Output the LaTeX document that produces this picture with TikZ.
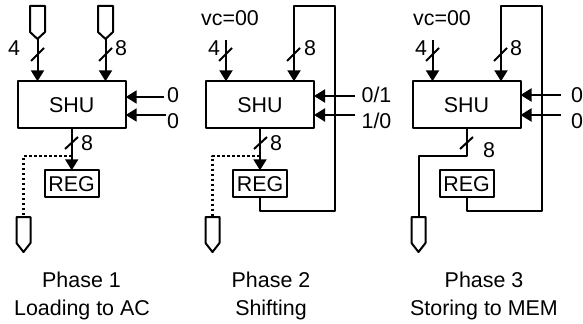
\documentclass[tikz,border=0pt]{standalone}
\usepackage{fontspec}
\setmainfont{Liberation Sans}
\usetikzlibrary{arrows.meta}
\tikzset{
  wire/.style={black,line width=2bp,line join=round},
  dotwire/.style={wire,line width=2.6bp,dash pattern=on 2.6bp off 2.4bp},
  shubox/.style={draw,line width=2bp,minimum width=108bp,minimum height=47bp,inner sep=0pt,outer sep=0pt},
  regbox/.style={draw,line width=2bp,minimum width=54bp,minimum height=27bp,inner sep=0pt,outer sep=0pt},
  lbl/.style={inner sep=0pt,font=\fontsize{21.5}{21.5}\selectfont},
}
\begin{document}
\begin{tikzpicture}[>={Triangle[length=11bp,width=13bp]},line join=round,x=1bp,y=1bp]
\useasboundingbox (0,0) rectangle (583,323);
%%
\node (shu_1) at (71.7bp,218.2bp) [shubox,lbl] {SHU};
  \node (shu_2) at (260bp,218.2bp) [shubox,lbl] {SHU};
  \node (shu_3) at (466.5bp,218.2bp) [shubox,lbl] {SHU};
  \node (reg_1) at (71.7bp,139.2bp) [regbox,lbl] {REG};
  \node (reg_2) at (260bp,139.2bp) [regbox,lbl] {REG};
  \node (reg_3) at (466.5bp,139.2bp) [regbox,lbl] {REG};
%
\node (four_1) at (14bp,275bp) [lbl] {4};
  \node (eight_1a) at (121bp,275bp) [lbl] {8};
  \node (eight_1b) at (87bp,180bp) [lbl] {8};
  \node (zero_1a) at (173bp,228bp) [lbl] {0};
  \node (zero_1b) at (173bp,202bp) [lbl] {0};
  \node (phase_1) at (81.5bp,43bp) [lbl] {Phase 1};
  \node (load_1) at (82bp,13.5bp) [lbl] {Loading to AC};
%
\node (vc_2) at (230bp,305bp) [lbl] {vc=00};
  \node (four_2) at (214bp,275bp) [lbl] {4};
  \node (eight_2a) at (310bp,275bp) [lbl] {8};
  \node (eight_2b) at (276bp,180bp) [lbl] {8};
  \node (ctl_2a) at (376.5bp,228bp) [lbl] {0/1};
  \node (ctl_2b) at (376.5bp,202bp) [lbl] {1/0};
  \node (phase_2) at (271bp,43bp) [lbl] {Phase 2};
  \node (shift_2) at (271bp,13.5bp) [lbl] {Shifting};
%
\node (vc_3) at (442bp,305bp) [lbl] {vc=00};
  \node (four_3) at (421bp,275bp) [lbl] {4};
  \node (eight_3a) at (516bp,275bp) [lbl] {8};
  \node (eight_3b) at (489bp,172.5bp) [lbl] {8};
  \node (zero_3a) at (577bp,228bp) [lbl] {0};
  \node (zero_3b) at (577bp,202bp) [lbl] {0};
  \node (phase_3) at (484bp,43bp) [lbl] {Phase 3};
  \node (store_3) at (484bp,13.5bp) [lbl] {Storing to MEM};
%%
\coordinate (pin_1a) at (37.5bp,284bp);
  \coordinate (pin_1b) at (105.5bp,284bp);
  \coordinate (pin_1c) at (23.5bp,106bp);
  \coordinate (pin_2c) at (212.5bp,106bp);
  \coordinate (pin_3c) at (418.5bp,106bp);
  \coordinate (in_2) at (226bp,283bp);
  \coordinate (in_3) at (432.5bp,283bp);
  \coordinate (top_2) at (294bp,317bp);
  \coordinate (top_3) at (501bp,317bp);
  \coordinate (jog_3) at (418.5bp,167bp);
  \coordinate (ctl_1a) at (164bp,226bp);
  \coordinate (ctl_1b) at (166bp,208bp);
  \coordinate (ctl_2c) at (355bp,227bp);
  \coordinate (ctl_2d) at (355bp,208bp);
  \coordinate (ctl_3a) at (561bp,228bp);
  \coordinate (ctl_3b) at (561bp,208bp);
%
\draw [wire] (30bp,317bp) -- (45bp,317bp) -- (45bp,291bp) -- (pin_1a) -- (30bp,291bp) -- cycle;
  \draw [wire] (98bp,317bp) -- (113bp,317bp) -- (113bp,291bp) -- (pin_1b) -- (98bp,291bp) -- cycle;
  \draw [wire] (16.5bp,106bp) -- (30.5bp,106bp) -- (30.5bp,80bp) -- (23.5bp,71bp) -- (16.5bp,80bp) -- cycle;
  \draw [wire] (205.5bp,106bp) -- (219.5bp,106bp) -- (219.5bp,80bp) -- (212.5bp,71bp) -- (205.5bp,80bp) -- cycle;
  \draw [wire] (411.5bp,106bp) -- (425.5bp,106bp) -- (425.5bp,80bp) -- (418.5bp,71bp) -- (411.5bp,80bp) -- cycle;
%
\draw [wire,->] (pin_1a) -- (pin_1a |- shu_1.north);
  \draw [wire,->] (pin_1b) -- (pin_1b |- shu_1.north);
  \draw [wire,->] (shu_1.south) -- (reg_1.north);
  \draw [dotwire] (71.7bp,167bp) -| (pin_1c);
  \draw [wire,->] (ctl_1a) -- (ctl_1a -| shu_1.east);
  \draw [wire,->] (ctl_1b) -- (ctl_1b -| shu_1.east);
%
\draw [wire,->] (in_2) -- (in_2 |- shu_2.north);
  \draw [wire,->] (reg_2.south) -- ++(0bp,-13.4bp) -- ++(74.5bp,0bp) |- (top_2) -- (top_2 |- shu_2.north);
  \draw [wire,->] (shu_2.south) -- (reg_2.north);
  \draw [dotwire] (260bp,167bp) -| (pin_2c);
  \draw [wire,->] (ctl_2c) -- (ctl_2c -| shu_2.east);
  \draw [wire,->] (ctl_2d) -- (ctl_2d -| shu_2.east);
%
\draw [wire,->] (in_3) -- (in_3 |- shu_3.north);
  \draw [wire,->] (reg_3.south) -- ++(0bp,-13.4bp) -- ++(75bp,0bp) |- (top_3) -- (top_3 |- shu_3.north);
  \draw [wire] (shu_3.south) |- (jog_3) -- (pin_3c);
  \draw [wire,->] (ctl_3a) -- (ctl_3a -| shu_3.east);
  \draw [wire,->] (ctl_3b) -- (ctl_3b -| shu_3.east);
%
\draw [wire] (31bp,262bp) -- (44bp,275bp);
  \draw [wire] (99bp,262bp) -- (112bp,275bp);
  \draw [wire] (65bp,174bp) -- (78bp,186bp);
  \draw [wire] (219bp,262bp) -- (232bp,275bp);
  \draw [wire] (287bp,262bp) -- (300bp,275bp);
  \draw [wire] (254bp,174bp) -- (267bp,186bp);
  \draw [wire] (426bp,262bp) -- (439bp,275bp);
  \draw [wire] (494bp,262bp) -- (507bp,275bp);
  \draw [wire] (460bp,174bp) -- (473bp,186bp);
%
\end{tikzpicture}
\end{document}
